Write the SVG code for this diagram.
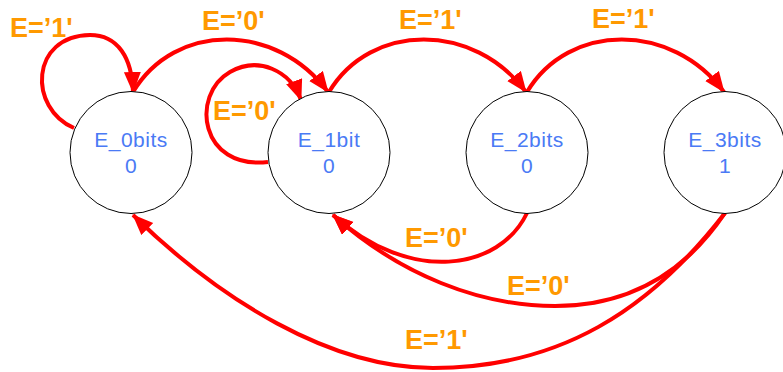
<svg xmlns="http://www.w3.org/2000/svg" width="783" height="372" viewBox="0 0 783 372">
  <style>
    .state circle { fill: #ffffff; stroke: #000000; stroke-width: 1; }
    .state text { font-family: "Liberation Sans", Arial, sans-serif; font-size: 21px; fill: #4a7af5; text-anchor: middle; letter-spacing: 0.5px; }
    .edge { fill: none; stroke: #ff0000; stroke-width: 4; stroke-linejoin: round; marker-end: url(#head); }
    .cond { font-family: "Liberation Sans", Arial, sans-serif; font-size: 27px; font-weight: bold; fill: #ff9900; }
  </style>
  <defs>
    <!-- filled arrowhead, about 21 px long and 17 px wide -->
    <marker id="head" markerUnits="userSpaceOnUse" markerWidth="23" markerHeight="18" refX="20" refY="8.5" orient="auto">
      <path d="M0,0 L21,8.5 L0,17 z" fill="#ff0000"/>
    </marker>
  </defs>
  <rect width="783" height="372" fill="#ffffff"/>

  <g id="connectors">
    <!-- self loops -->
    <path class="edge" d="M74,128 C28,108 30,36 90,35 C118,35 132,58 133,92"/>
    <path class="edge" d="M268,162 C200,170 190,95 230,72 C258,56 290,70 301,100"/>
    <!-- forward transitions on top -->
    <path class="edge" d="M133,92 C175,22 276,22 328,92"/>
    <path class="edge" d="M329,92 C371,22 474,22 526,92"/>
    <path class="edge" d="M527,92 C569,22 672,22 724,92"/>
    <!-- return transitions underneath -->
    <path class="edge" d="M527,213 C500,270 410,285 333,215"/>
    <path class="edge" d="M725,213 C680,280 620,306 555,306 C480,306 400,275 333,215"/>
    <path class="edge" d="M725,213 C650,310 560,368 433,368 C330,368 220,300 133,215"/>
  </g>

  <g id="labels">
    <text class="cond" x="10" y="37">E=’1'</text>
    <text class="cond" x="202" y="30">E=’0'</text>
    <text class="cond" x="213" y="120">E=’0'</text>
    <text class="cond" x="399" y="29">E=’1'</text>
    <text class="cond" x="592" y="28">E=’1'</text>
    <text class="cond" x="405" y="247">E=’0'</text>
    <text class="cond" x="507" y="295">E=’0'</text>
    <text class="cond" x="405" y="349">E=’1'</text>
  </g>

  <g id="E_0bits" class="state">
    <circle cx="131" cy="152.5" r="61"/>
    <text x="131" y="147">E_0bits</text>
    <text x="131" y="173">0</text>
  </g>
  <g id="E_1bit" class="state">
    <circle cx="329" cy="152.5" r="61"/>
    <text x="329" y="147">E_1bit</text>
    <text x="329" y="173">0</text>
  </g>
  <g id="E_2bits" class="state">
    <circle cx="527" cy="152.5" r="61"/>
    <text x="527" y="147">E_2bits</text>
    <text x="527" y="173">0</text>
  </g>
  <g id="E_3bits" class="state">
    <circle cx="725" cy="152.5" r="61"/>
    <text x="725" y="147">E_3bits</text>
    <text x="725" y="173">1</text>
  </g>
</svg>
